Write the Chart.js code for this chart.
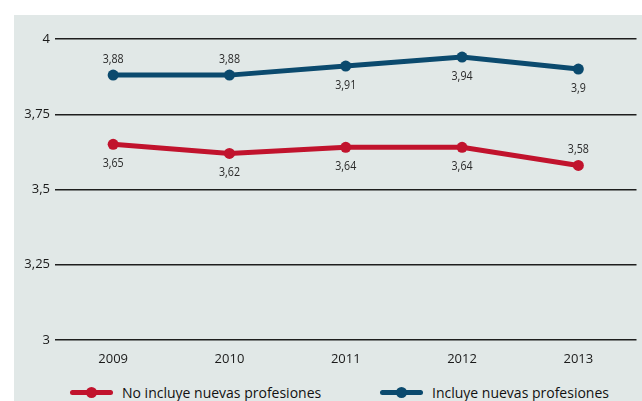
<!DOCTYPE html>
<html>
<head>
<meta charset="utf-8">
<script src="https://cdn.jsdelivr.net/npm/chart.js@4"></script>
<style>
  body { margin: 0; background: #fff; width: 642px; height: 401px; overflow: hidden; position: relative; }
  #panel { position: absolute; left: 14px; top: 15px; width: 628px; height: 386px; background: #e1e8e7; }
  #chartBox { position: absolute; left: 0; top: 0; width: 628px; height: 365px; }
  #legend { position: absolute; left: 0; top: 366px; width: 628px; height: 22px; font-family: "Open Sans", sans-serif; font-size: 14px; color: #111; }
  .item { position: absolute; top: 0; display: flex; align-items: center; height: 22px; }
  .mark { position: relative; width: 43px; height: 22px; margin-right: 9px; }
  .mark .bar { position: absolute; left: 0; top: 9px; width: 43px; height: 5px; border-radius: 3px; }
  .mark .dot { position: absolute; left: 16px; top: 6px; width: 11px; height: 11px; border-radius: 50%; }
</style>
</head>
<body>
<div id="panel">
  <div id="chartBox"><canvas id="lineChart"></canvas></div>
  <div id="legend"></div>
</div>
<script>
const years = ['2009', '2010', '2011', '2012', '2013'];
const noIncluye = [3.65, 3.62, 3.64, 3.64, 3.58];
const incluye = [3.88, 3.88, 3.91, 3.94, 3.9];
const yTicks = [3, 3.25, 3.5, 3.75, 4];
const yTickLabels = ['3', '3,25', '3,5', '3,75', '4'];
const seriesNames = ['No incluye nuevas profesiones', 'Incluye nuevas profesiones'];

const red = '#c1132d';
const blue = '#0b4a6e';
const font = '"Open Sans", sans-serif';

// which side of the point each value label goes on
const labelSide = [
    ['below', 'below', 'below', 'below', 'above'],
    ['above', 'above', 'below', 'below', 'below']
];

const valueLabels = {
    id: 'valueLabels',
    afterDatasetsDraw(chart) {
        const ctx = chart.ctx;
        chart.data.datasets.forEach((ds, i) => {
            chart.getDatasetMeta(i).data.forEach((pt, j) => {
                const off = labelSide[i][j] === 'above' ? -16 : 19;
                ctx.save();
                ctx.translate(pt.x, pt.y + off);
                ctx.scale(0.82, 1);   // squeeze a bit, the original font is condensed
                ctx.font = '13px ' + font;
                ctx.fillStyle = '#2a2a2a';
                ctx.textAlign = 'center';
                ctx.textBaseline = 'middle';
                ctx.fillText(String(ds.data[j]).replace('.', ','), 0, 0);
                ctx.restore();
            });
        });
    }
};

const ctx1 = document.getElementById('lineChart').getContext('2d');
const lineChart = new Chart(ctx1, {
    type: 'line',
    data: {
        labels: years,
        datasets: [{
            label: seriesNames[0],
            data: noIncluye,
            borderColor: red,
            backgroundColor: red,
            borderWidth: 5,
            pointRadius: 5.5,
            pointBorderWidth: 0,
            tension: 0
        }, {
            label: seriesNames[1],
            data: incluye,
            borderColor: blue,
            backgroundColor: blue,
            borderWidth: 5,
            pointRadius: 5.5,
            pointBorderWidth: 0,
            tension: 0
        }]
    },
    options: {
        responsive: true,
        maintainAspectRatio: false,
        animation: false,
        layout: { padding: { top: 24, right: 4, left: 0, bottom: 0 } },
        plugins: {
            legend: { display: false },
            tooltip: { enabled: false }
        },
        scales: {
            x: {
                offset: true,
                grid: { display: false, drawTicks: false },
                border: { display: false },
                ticks: { padding: 11, color: '#1a1a1a', font: { family: font, size: 13 } },
                afterFit: (s) => { s.height = 40; }
            },
            y: {
                min: 3,
                max: 4,
                afterBuildTicks: (s) => { s.ticks = yTicks.map(v => ({ value: v })); },
                ticks: {
                    padding: 5,
                    color: '#1a1a1a',
                    font: { family: font, size: 13 },
                    callback: (v) => yTickLabels[yTicks.indexOf(v)]
                },
                grid: { color: '#1e1e1e', lineWidth: 1.5, drawTicks: false },
                border: { display: false },
                afterFit: (s) => { s.width = 41; }
            }
        }
    },
    plugins: [valueLabels]
});

// legend below the chart
const legend = document.getElementById('legend');
const colors = [red, blue];
const lefts = [56, 366];
seriesNames.forEach((name, i) => {
    const item = document.createElement('div');
    item.className = 'item';
    item.style.left = lefts[i] + 'px';
    item.innerHTML = '<span class="mark"><span class="bar" style="background:' + colors[i] +
        '"></span><span class="dot" style="background:' + colors[i] + '"></span></span><span>' + name + '</span>';
    legend.appendChild(item);
});
</script>
</body>
</html>
